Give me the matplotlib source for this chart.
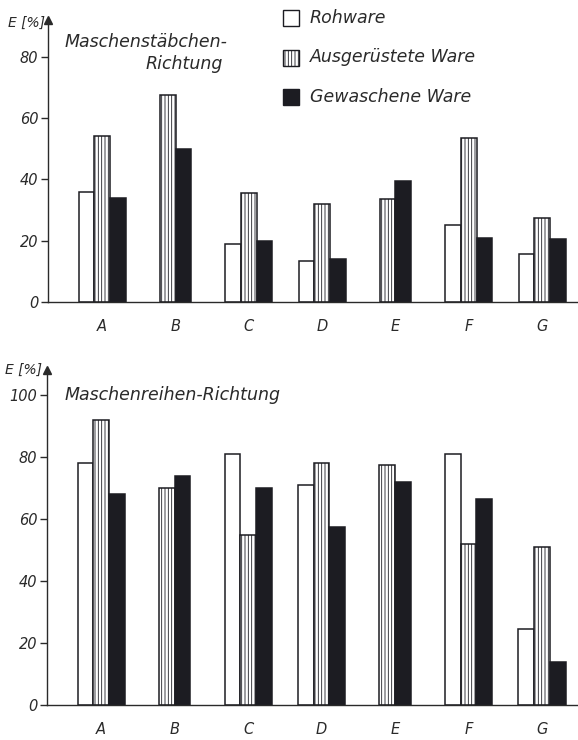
import numpy as np
from matplotlib import pyplot as plt

# Daten
gruppen = ["A", "B", "C", "D", "E", "F", "G"]
serien = ["Rohware", "Ausgerüstete Ware", "Gewaschene Ware"]

# Maschenstäbchen-Richtung
roh_oben = [36, np.nan, 19, 13.5, np.nan, 25, 15.5]
ausg_oben = [54, 67.5, 35.5, 32, 33.5, 53.5, 27.5]
gew_oben = [34, 50, 20, 14, 39.5, 21, 20.5]

# Maschenreihen-Richtung
roh_unten = [78, np.nan, 81, 71, np.nan, 81, 24.5]
ausg_unten = [92, 70, 55, 78, 77.5, 52, 51]
gew_unten = [68, 74, 70, 57.5, 72, 66.5, 14]

TEXT = "#2a2a2a"
SCHWARZ = "#1c1c22"
BREITE = 0.214
W, H = 578, 740

stile = [
    dict(facecolor="white", edgecolor=SCHWARZ, hatch=None),
    dict(facecolor="white", edgecolor=SCHWARZ, hatch="|||||"),
    dict(facecolor=SCHWARZ, edgecolor=SCHWARZ, hatch=None),
]

plt.rcParams["hatch.linewidth"] = 0.6
plt.rcParams["font.family"] = "DejaVu Sans"


def zeichne(ax, werte, ymax, ticks):
    """Gruppierte Balken; fehlende Werte werden ausgelassen und die Gruppe zentriert."""
    werte = np.array(werte, dtype=float)
    for i in range(len(gruppen)):
        vorhanden = [s for s in range(len(serien)) if not np.isnan(werte[s, i])]
        n = len(vorhanden)
        for k, s in enumerate(vorhanden):
            x = i + (k - (n - 1) / 2) * BREITE
            ax.bar(x, werte[s, i], width=BREITE, linewidth=1.1, **stile[s])

    ax.set_xlim(-0.74, 6.49)
    ax.set_ylim(0, ymax)
    ax.set_yticks(ticks)
    ax.set_xticks(range(len(gruppen)))
    ax.set_xticklabels(gruppen, style="italic", color=TEXT, fontsize=10.5)
    ax.tick_params(axis="x", length=0, pad=12)
    ax.tick_params(axis="y", direction="out", length=5, width=1, colors=TEXT,
                   labelsize=10.5, pad=2)
    for t in ax.get_yticklabels():
        t.set_style("italic")
    for seite in ["top", "right"]:
        ax.spines[seite].set_visible(False)
    for seite in ["left", "bottom"]:
        ax.spines[seite].set_color(TEXT)
        ax.spines[seite].set_linewidth(1)
    # Pfeil an der Achse
    ax.plot(0, 1, marker="^", markersize=6, color=TEXT, transform=ax.transAxes,
            clip_on=False)


fig = plt.figure(figsize=(W / 100, H / 100), dpi=100)

ax1 = fig.add_axes([0.083, 0.592, 0.917, 0.381])
zeichne(ax1, [roh_oben, ausg_oben, gew_oben], 92, [0, 20, 40, 60, 80])
ax1.text(0.032, 0.922, "Maschenstäbchen-", transform=ax1.transAxes,
         style="italic", fontsize=12.5, color=TEXT, va="center")
ax1.text(0.33, 0.844, "Richtung", transform=ax1.transAxes, ha="right",
         style="italic", fontsize=12.5, color=TEXT, va="center")
fig.text(45 / W, 1 - 23 / H, "E [%]", ha="right", va="center",
         style="italic", fontsize=10, color=TEXT)

ax2 = fig.add_axes([0.081, 0.047, 0.919, 0.453])
zeichne(ax2, [roh_unten, ausg_unten, gew_unten], 108, [0, 20, 40, 60, 80, 100])
ax2.text(0.033, 0.925, "Maschenreihen-Richtung", transform=ax2.transAxes,
         style="italic", fontsize=12.5, color=TEXT, va="center")
fig.text(42 / W, 1 - 370 / H, "E [%]", ha="right", va="center",
         style="italic", fontsize=10, color=TEXT)

# Legende
for j, name in enumerate(serien):
    y = 1 - (18 + j * 39.5) / H
    fig.patches.append(plt.Rectangle((283 / W, y - 8 / H), 16 / W, 16 / H,
                                     transform=fig.transFigure, linewidth=1.0,
                                     **stile[j]))
    fig.text(310 / W, y, name, style="italic", fontsize=12.5, color=TEXT,
             va="center")

fig.savefig("out.png", dpi=100)
